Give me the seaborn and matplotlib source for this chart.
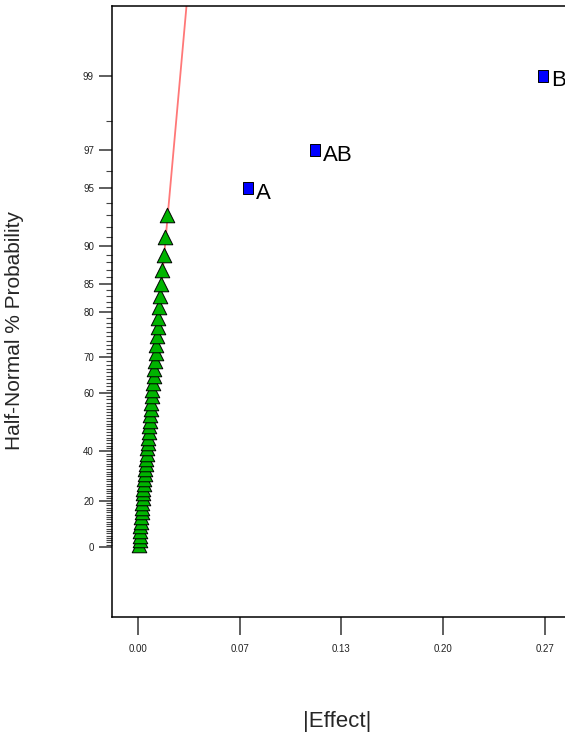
import numpy as np
import pandas as pd
import matplotlib
matplotlib.use("Agg")
import matplotlib.pyplot as plt
import seaborn as sns
from matplotlib.path import Path
from matplotlib.ticker import FixedLocator
from statistics import NormalDist

# small effects (green triangles), |effect| and half-normal % probability
small_effect = [0.0008, 0.0010, 0.0012, 0.0014, 0.0016, 0.0018, 0.0020, 0.0023,
                0.0025, 0.0028, 0.0030, 0.0033, 0.0036, 0.0039, 0.0042, 0.0045,
                0.0048, 0.0051, 0.0054, 0.0057, 0.0060, 0.0063, 0.0066, 0.0069,
                0.0073, 0.0076, 0.0080, 0.0084, 0.0087, 0.0091, 0.0095, 0.0099,
                0.0103, 0.0107, 0.0111, 0.0115, 0.0119, 0.0124, 0.0129, 0.0134,
                0.0138, 0.0143, 0.0151, 0.0159, 0.0168, 0.0179, 0.0192]
small_prob = [1, 3, 5, 7, 9, 11, 13, 15, 17, 19, 21, 23, 25, 27, 29, 31,
              33, 35, 37, 39, 41, 43, 45, 47, 49, 51, 53, 55, 57, 59, 61, 63,
              65, 67, 69, 71, 73, 75, 77, 79, 81, 83, 85, 87, 89, 91, 93]

# significant effects (blue squares)
big_labels = ["A", "AB", "B"]
big_effect = [0.0721, 0.1160, 0.2655]
big_prob = [95, 97, 99]

y_major = [0, 20, 40, 60, 70, 80, 85, 90, 95, 97, 99]
x_ticks = [0.0, 0.0667, 0.1333, 0.2000, 0.2667]
x_labels = ["0.00", "0.07", "0.13", "0.20", "0.27"]

_nd = NormalDist()
_inv = np.vectorize(_nd.inv_cdf, otypes=[float])
_cdf = np.vectorize(_nd.cdf, otypes=[float])


def to_z(p):
    q = np.clip(0.5 + np.asarray(p, dtype=float) / 200.0, 1e-9, 1 - 1e-9)
    return _inv(q)


def from_z(z):
    return (2.0 * _cdf(np.asarray(z, dtype=float)) - 1.0) * 100.0


sns.set_style("white")
plt.rcParams['font.family'] = ['Liberation Sans', 'DejaVu Sans']

W, H = 565, 746
fig = plt.figure(figsize=(W / 100, H / 100), dpi=100)
ax = fig.add_axes([112 / W, 1 - 617 / H, (575 - 112) / W, (617 - 6) / H])
ax.set_yscale('function', functions=(to_z, from_z))

# fitted line through the small effects (through origin)
zs = to_z(small_prob)
xs = np.array(small_effect)
slope = np.sum(xs * zs) / np.sum(zs * zs)
line_z = np.array([0.0, 3.3])
line_df = pd.DataFrame({"x": slope * line_z, "p": from_z(line_z)})
sns.lineplot(data=line_df, x="x", y="p", color="#FF7878", linewidth=1.3,
             sort=False, estimator=None, ax=ax, zorder=1)

small_df = pd.DataFrame({"effect": small_effect, "prob": small_prob})
sns.scatterplot(data=small_df, x="effect", y="prob", marker="^", s=110,
                color="#00B400", edgecolor="black", linewidth=0.7,
                ax=ax, zorder=3)

rect = Path([(-0.75, -1), (0.75, -1), (0.75, 1), (-0.75, 1), (-0.75, -1)],
            [Path.MOVETO, Path.LINETO, Path.LINETO, Path.LINETO, Path.CLOSEPOLY])
big_df = pd.DataFrame({"effect": big_effect, "prob": big_prob, "lbl": big_labels})
sns.scatterplot(data=big_df, x="effect", y="prob", marker=rect, s=80,
                color="#0000FF", edgecolor="black", linewidth=0.7,
                ax=ax, zorder=3)
for _, r in big_df.iterrows():
    ax.annotate(r["lbl"], (r["effect"], r["prob"]), xytext=(6.0, -3.8),
                textcoords="offset points", ha="left", va="center",
                fontsize=16, color="black",
                family=['Liberation Sans Narrow', 'Liberation Sans', 'DejaVu Sans'])

ax.set_xlim(-0.01704, 0.2864)
ax.set_ylim(from_z(-0.3825), from_z(2.956))

ax.set_yticks(y_major)
ax.set_yticklabels([str(v) for v in y_major])
ax.yaxis.set_minor_locator(FixedLocator([v for v in range(1, 99) if v not in y_major]))
ax.set_xticks(x_ticks)
ax.set_xticklabels(x_labels)

ax.tick_params(axis='y', which='major', left=True, length=9.4, width=1.1,
               color='#333333', labelsize=7, pad=3.6, labelcolor='#222222')
ax.tick_params(axis='y', which='minor', left=True, length=4.3, width=0.8,
               color='#444444')
ax.tick_params(axis='x', which='major', bottom=True, length=13, width=1.1,
               color='#333333', labelsize=7, pad=6.5, labelcolor='#222222')

for side in ['left', 'top', 'bottom']:
    ax.spines[side].set_color('black')
    ax.spines[side].set_linewidth(1.1)
ax.spines['right'].set_visible(False)

ax.set_xlabel("")
ax.set_ylabel("")
fig.text(337 / W, 1 - 722 / H, "|Effect|", ha="center", va="center", fontsize=16)
fig.text(15 / W, 1 - 330 / H, "Half-Normal % Probability", rotation=90,
         ha="center", va="center", fontsize=15)

fig.savefig("out.png", dpi=100)
